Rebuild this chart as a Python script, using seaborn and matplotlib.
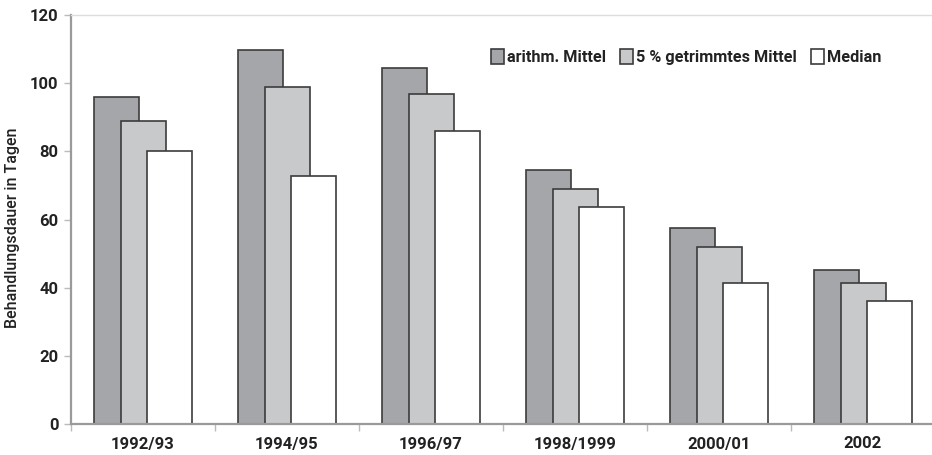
import numpy as np
import pandas as pd
import matplotlib
matplotlib.use("Agg")
import matplotlib.pyplot as plt
import seaborn as sns

# Behandlungsdauer je Zeitraum (Tage)
zeitraeume = ["1992/93", "1994/95", "1996/97", "1998/1999", "2000/01", "2002"]
arithm_mittel = [96.0, 109.7, 104.4, 74.5, 57.5, 45.2]
getrimmtes_mittel = [89.0, 99.0, 96.7, 69.0, 52.0, 41.5]
median = [80.0, 72.9, 86.0, 63.7, 41.5, 36.2]
serien = ["arithm. Mittel", "5 % getrimmtes Mittel", "Median"]
y_ticks = [0, 20, 40, 60, 80, 100, 120]

df = pd.DataFrame({
    "Zeitraum": zeitraeume * 3,
    "Tage": arithm_mittel + getrimmtes_mittel + median,
    "Kennwert": [serien[0]] * 6 + [serien[1]] * 6 + [serien[2]] * 6,
})

sns.set_theme(style="white")
plt.rcParams["font.family"] = ["Roboto", "DejaVu Sans"]

fig = plt.figure(figsize=(9.32, 4.55), dpi=100)
ax = fig.add_axes([71 / 932, 31 / 455, 864 / 932, 409 / 455])

farben = ["#a5a6a9", "#c8c9cb", "#ffffff"]
sns.barplot(data=df, x="Zeitraum", y="Tage", hue="Kennwert",
            hue_order=serien, order=zeitraeume, palette=farben,
            width=0.549, gap=0, dodge=True, edgecolor="#3c3c3c",
            linewidth=1.2, saturation=1, errorbar=None, ax=ax)

# overlapping bars: widen each bar around its dodged centre
bar_breite = 0.3125
for container in ax.containers:
    for bar in container:
        mitte = bar.get_x() + bar.get_width() / 2
        bar.set_width(bar_breite)
        bar.set_x(mitte - bar_breite / 2)

ax.set_xlim(-0.5, 5.5)
ax.set_ylim(0, 120)
ax.set_yticks(y_ticks)
ax.set_yticklabels([str(v) for v in y_ticks], fontsize=12, fontweight="bold",
                   color="#222222")
ax.set_xticks(range(len(zeitraeume)))
ax.set_xticklabels(zeitraeume, fontsize=12, fontweight="bold", color="#222222")
ax.set_xticks(np.arange(-0.5, len(zeitraeume), 1), minor=True)

ax.tick_params(axis="y", which="major", length=5, width=1, color="#bbbbbb",
               pad=4, left=True, direction="out")
ax.tick_params(axis="x", which="major", length=0, pad=9)
ax.tick_params(axis="x", which="minor", length=5, width=1, color="#bbbbbb",
               bottom=True, direction="out")

ax.set_xlabel("")
ax.set_ylabel("Behandlungsdauer in Tagen", fontsize=11.5, color="#222222",
              fontweight="medium")
ax.yaxis.set_label_coords(-0.059, 0.48)

for side in ["left", "bottom"]:
    ax.spines[side].set_color("#9a9a9a")
    ax.spines[side].set_linewidth(1.6)
ax.spines["top"].set_color("#dddddd")
ax.spines["top"].set_linewidth(1.0)
ax.spines["right"].set_visible(False)

handles, labels = ax.get_legend_handles_labels()
ax.legend(handles, labels, ncol=3, frameon=False, loc="center left",
          bbox_to_anchor=(491 / 932, 1 - 57 / 455),
          bbox_transform=fig.transFigure, borderpad=0, borderaxespad=0,
          handlelength=0.8, handleheight=1.0, handletextpad=0.2,
          columnspacing=0.85, prop={"size": 11.7, "weight": "bold"},
          labelcolor="#222222")

fig.savefig("out.png", dpi=100)
